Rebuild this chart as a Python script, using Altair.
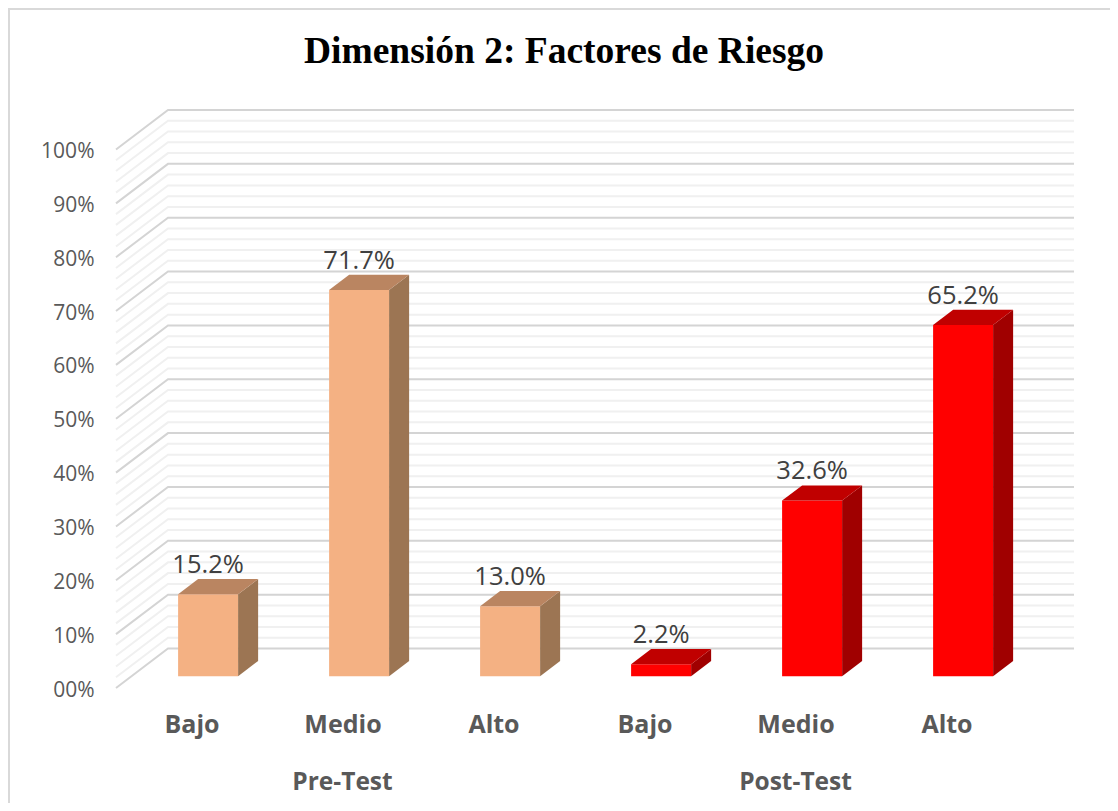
import altair as alt
import pandas as pd

categories = ["Bajo", "Medio", "Alto", "Bajo", "Medio", "Alto"]
groups = ["Pre-Test", "Post-Test"]
group_of_bar = [0, 0, 0, 1, 1, 1]
values = [15.2, 71.7, 13.0, 2.2, 32.6, 65.2]
face_colors = ["#F4B183", "#FF0000"]
top_colors = ["#BA8561", "#C00000"]
side_colors = ["#9C7553", "#A00000"]

# oblique projection, all expressed in scale units
PX_PER_CAT = 151.0
PX_PER_PCT = 5.385
WALL_DX = 52 / PX_PER_CAT
WALL_DY = 39.5 / PX_PER_PCT
D0, D1 = 0.30, 0.685
BAR_W = 60 / PX_PER_CAT
BAR_SHIFT = 1 / PX_PER_CAT
PLOT_W, PLOT_H = 958, 578
x_scale = alt.Scale(domain=[0, PLOT_W / PX_PER_CAT], nice=False, zero=False)
y_scale = alt.Scale(domain=[0, PLOT_H / PX_PER_PCT], nice=False, zero=False)

grid_rows = []
for v in range(0, 101, 2):
    kind = "major" if v % 10 == 0 else "minor"
    for k, (x, y) in enumerate([(0, v), (WALL_DX, v + WALL_DY), (6 + WALL_DX, v + WALL_DY)]):
        grid_rows.append({"id": v, "kind": kind, "k": k, "x": x, "y": y})
grid = pd.DataFrame(grid_rows)

front, side, top, labels = [], [], [], []
for i, (val, g) in enumerate(zip(values, group_of_bar)):
    xa = i + 0.5 + D0 * WALL_DX - BAR_W / 2 + BAR_SHIFT
    xb = xa + BAR_W
    y0 = D0 * WALL_DY
    y1 = D1 * WALL_DY
    dx = (D1 - D0) * WALL_DX
    front.append({"x": xa, "x2": xb, "y": y0, "y2": y0 + val, "g": g})
    side += [{"bar": i, "g": g, "x": xb, "y": y0, "y2": y0 + val},
             {"bar": i, "g": g, "x": xb + dx, "y": y1, "y2": y1 + val}]
    top += [{"bar": i, "g": g, "x": xa, "y": y0 + val, "y2": y0 + val},
            {"bar": i, "g": g, "x": xa + dx, "y": y0 + val, "y2": y1 + val},
            {"bar": i, "g": g, "x": xb, "y": y0 + val, "y2": y1 + val},
            {"bar": i, "g": g, "x": xb + dx, "y": y1 + val, "y2": y1 + val}]
    labels.append({"x": (xa + xb) / 2, "y": y1 + val, "t": f"{val:.1f}%"})

cat_expr = "[" + ",".join(f"'{c}'" for c in categories) + "][floor(datum.value)]"
x_axis = alt.Axis(values=[i + 0.5 for i in range(6)], labelExpr=cat_expr, title=None,
                  domain=False, ticks=False, grid=False, labelFont="Open Sans", labelFontSize=25,
                  labelFontWeight="bold", labelColor="#595959", labelPadding=24, labelAngle=0)
y_axis = alt.Axis(values=list(range(0, 101, 10)),
                  labelExpr="datum.value == 0 ? '00%' : datum.value + '%'", title=None,
                  domain=False, ticks=False, grid=False, labelFont="Open Sans", labelFontSize=21,
                  labelColor="#595959", labelPadding=22, labelOffset=2)
X = alt.X("x:Q", scale=x_scale, axis=x_axis)
Y = alt.Y("y:Q", scale=y_scale, axis=y_axis)


def grid_layer(kind, color, w):
    return alt.Chart(grid[grid.kind == kind]).mark_line(color=color, strokeWidth=w).encode(
        x=X, y=Y, detail="id:N", order="k:Q")


color_scale = lambda r: alt.Scale(domain=[0, 1], range=r)

front_l = alt.Chart(pd.DataFrame(front)).mark_rect().encode(
    x=X, x2="x2:Q", y=Y, y2="y2:Q",
    fill=alt.Fill("g:O", scale=color_scale(face_colors), legend=None))
side_l = alt.Chart(pd.DataFrame(side)).mark_area().encode(
    x=X, y=Y, y2="y2:Q", detail="bar:N",
    fill=alt.Fill("g:O", scale=color_scale(side_colors), legend=None))
top_l = alt.Chart(pd.DataFrame(top)).mark_area().encode(
    x=X, y=Y, y2="y2:Q", detail="bar:N",
    fill=alt.Fill("g:O", scale=color_scale(top_colors), legend=None))
label_l = alt.Chart(pd.DataFrame(labels)).mark_text(
    font="Open Sans", fontSize=25.5, color="#404040", baseline="bottom", dy=-1).encode(
    x=X, y=Y, text="t:N")
group_l = alt.Chart(pd.DataFrame({"x": [1.5, 4.5], "y": [0, 0], "t": groups})).mark_text(
    font="Open Sans", fontSize=24.5, fontWeight="bold", color="#595959", baseline="middle", dy=95).encode(
    x=X, y=Y, text="t:N")
title_l = alt.Chart(pd.DataFrame({"x": [3.0], "y": [PLOT_H / PX_PER_PCT], "t": ["Dimensión 2: Factores de Riesgo"]})).mark_text(
    font="Liberation Serif", fontSize=37.5, fontWeight="bold", color="#000000", baseline="middle", dy=-58, dx=-5).encode(
    x=X, y=Y, text="t:N")
border_top = alt.Chart(pd.DataFrame({"a": [0]})).mark_rule(color="#D9D9D9", strokeWidth=2).encode(
    x=alt.value(-108), x2=alt.value(PLOT_W + 60), y=alt.value(-101))
border_left = alt.Chart(pd.DataFrame({"a": [0]})).mark_rule(color="#D9D9D9", strokeWidth=2).encode(
    x=alt.value(-107), y=alt.value(-102), y2=alt.value(PLOT_H + 130))

chart = alt.layer(
    grid_layer("minor", "#F0F0F0", 2), grid_layer("major", "#D4D4D4", 2),
    front_l, side_l, top_l, label_l, group_l, title_l, border_top, border_left,
).resolve_scale(fill="independent").properties(
    width=PLOT_W, height=PLOT_H, background="white",
    autosize=alt.AutoSizeParams(type="none"),
    padding={"left": 108, "top": 102, "right": 36, "bottom": 115},
).configure_view(strokeWidth=0, stroke="transparent")

chart.save("out.html", embed_options={"renderer": "svg", "actions": False})
